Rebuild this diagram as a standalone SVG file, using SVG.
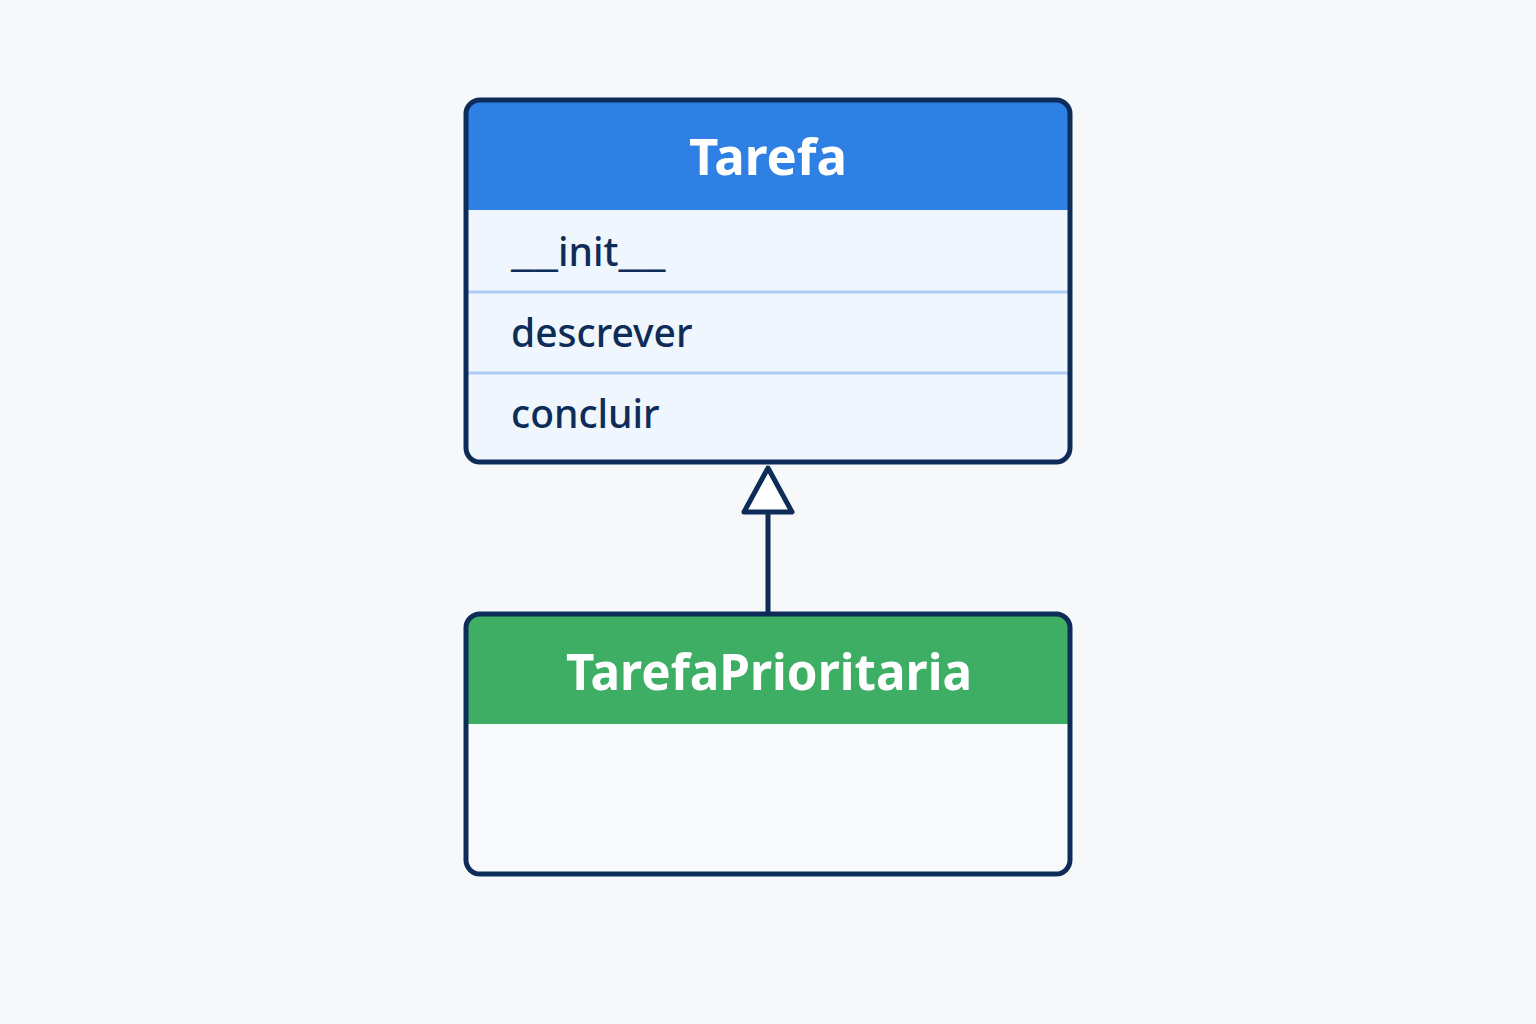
<svg xmlns="http://www.w3.org/2000/svg" width="1536" height="1024" viewBox="0 0 1536 1024">
<defs>
<style>
.border{fill:none;stroke:#0E2C58;stroke-width:5}
.title{font-family:"Noto Sans","Open Sans",sans-serif;font-weight:700;font-size:50px;fill:#FFFFFF;text-anchor:middle}
.method{font-family:"Noto Sans","Open Sans",sans-serif;font-weight:500;font-size:39px;fill:#0E2C58}
.divider{stroke:#AECDF4;stroke-width:3}
</style>
<clipPath id="c1"><rect x="466" y="100" width="604" height="362" rx="14"/></clipPath>
<clipPath id="c2"><rect x="466" y="614" width="604" height="260" rx="14"/></clipPath>
</defs>
<rect width="1536" height="1024" fill="#F7F8FA"/>
<g id="tarefa">
<g clip-path="url(#c1)">
<rect x="466" y="100" width="604" height="362" fill="#F0F6FE"/>
<rect x="466" y="100" width="604" height="110" fill="#2F80E4"/>
</g>
<line class="divider" x1="468" y1="292" x2="1068" y2="292"/>
<line class="divider" x1="468" y1="373" x2="1068" y2="373"/>
<rect class="border" x="466" y="100" width="604" height="362" rx="14"/>
<text class="title" x="768" y="175" textLength="158" lengthAdjust="spacingAndGlyphs">Tarefa</text>
<text class="method" x="511" y="266"><tspan textLength="47" lengthAdjust="spacingAndGlyphs">__</tspan><tspan>init</tspan><tspan textLength="47" lengthAdjust="spacingAndGlyphs">__</tspan></text>
<text class="method" x="511" y="347">descrever</text>
<text class="method" x="511" y="428">concluir</text>
</g>
<g id="tarefaprioritaria">
<g clip-path="url(#c2)">
<rect x="466" y="614" width="604" height="260" fill="#F7F9FC"/>
<rect x="466" y="614" width="604" height="110" fill="#3DAE63"/>
</g>
<rect class="border" x="466" y="614" width="604" height="260" rx="14"/>
<text class="title" x="769" y="690" textLength="406" lengthAdjust="spacingAndGlyphs">TarefaPrioritaria</text>
</g>
<g id="connectors">
<line x1="768" y1="512" x2="768" y2="612" stroke="#0E2C58" stroke-width="5"/>
<polygon points="768,468 792,512 744,512" fill="#FFFFFF" stroke="#0E2C58" stroke-width="5" stroke-linejoin="round"/>
</g>
</svg>
